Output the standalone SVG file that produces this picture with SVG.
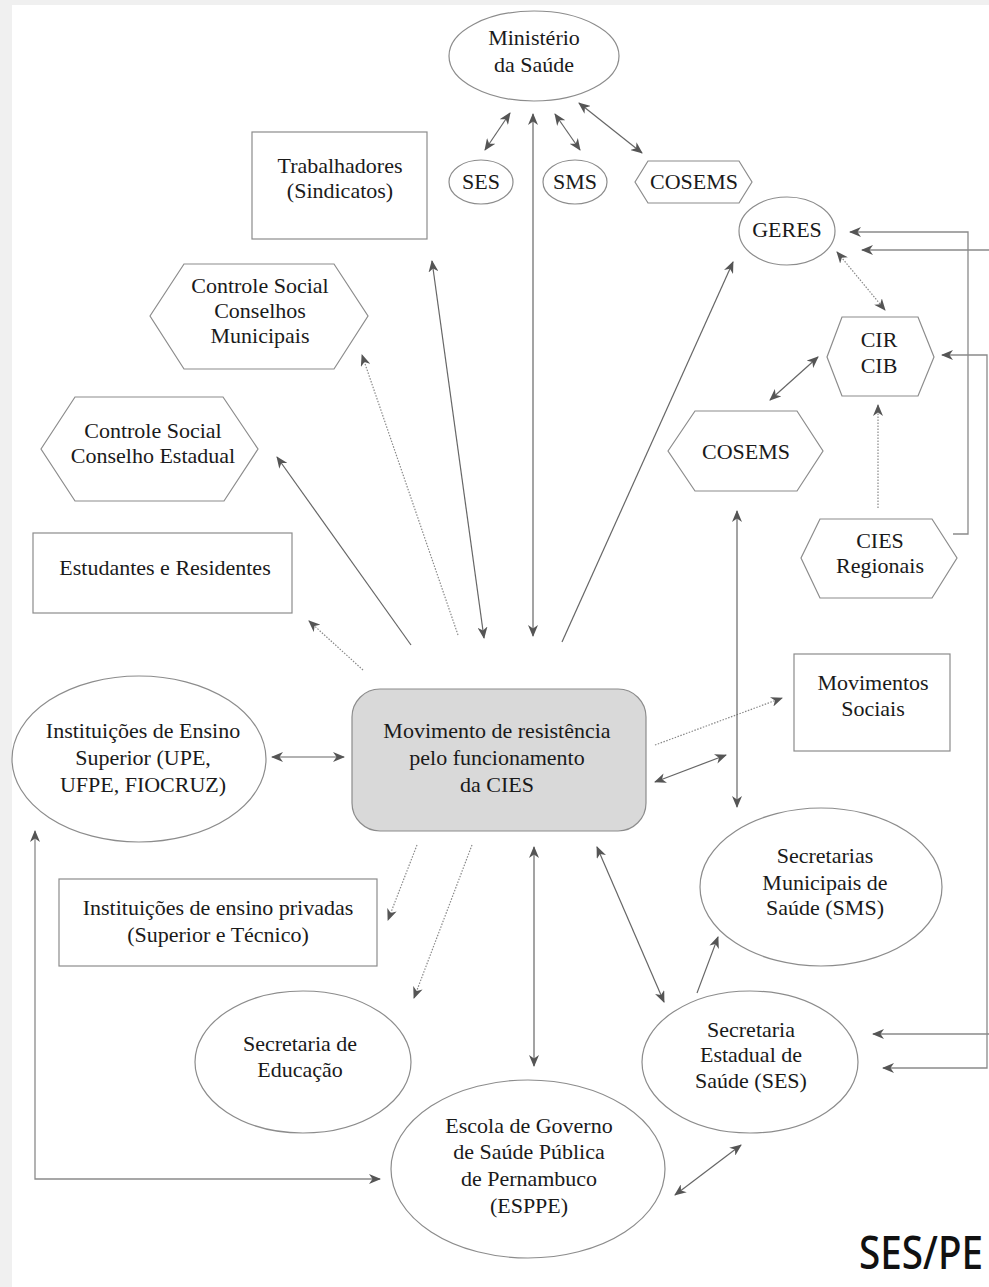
<svg xmlns="http://www.w3.org/2000/svg" width="989" height="1287" viewBox="0 0 989 1287">
<style>
.n{fill:#fff;stroke:#8c8c8c;stroke-width:1.2}
.c{fill:#d9d9d9;stroke:#8c8c8c;stroke-width:1.2}
.t{font-size:22px;fill:#1a1a1a;text-anchor:middle}
.s{fill:none;stroke:#666;stroke-width:1.2}
.o{fill:none;stroke:#8a8a8a;stroke-width:1.3}
.d{fill:none;stroke:#888;stroke-width:1.2;stroke-dasharray:1.5 1.5}
.e{marker-end:url(#ah)}
.b{marker-start:url(#ah);marker-end:url(#ah)}
</style>
<defs>
<marker id="ah" viewBox="0 0 12 10" refX="11" refY="5" markerWidth="12" markerHeight="10" markerUnits="userSpaceOnUse" orient="auto-start-reverse">
<path d="M0,0 L12,5 L0,10 L3.5,5 z" fill="#555"/>
</marker>
</defs>
<rect x="0" y="0" width="989" height="1287" fill="#fff"/>
<rect x="0" y="0" width="12" height="1287" fill="#f0f0f0"/>
<rect x="0" y="0" width="989" height="5" fill="#f0f0f0"/>

<g id="connectors">
<line class="s b" x1="485" y1="150" x2="510" y2="113"/>
<line class="s b" x1="533" y1="114" x2="533" y2="636"/>
<line class="s b" x1="555" y1="114" x2="580" y2="150"/>
<line class="s b" x1="579" y1="103" x2="642" y2="153"/>
<line class="s b" x1="432" y1="261" x2="484" y2="638"/>
<line class="d e" x1="458" y1="635" x2="362" y2="355"/>
<line class="s e" x1="411" y1="645" x2="277" y2="457"/>
<line class="d e" x1="363" y1="670" x2="309" y2="621"/>
<line class="s e" x1="562" y1="642" x2="733" y2="262"/>
<line class="s b" x1="272" y1="757" x2="344" y2="757"/>
<line class="d e" x1="417" y1="845" x2="388" y2="920"/>
<line class="d e" x1="472" y1="845" x2="414" y2="998"/>
<line class="s b" x1="534" y1="847" x2="534" y2="1066"/>
<line class="s b" x1="597" y1="847" x2="664" y2="1002"/>
<line class="s b" x1="675" y1="1195" x2="741" y2="1145"/>
<path class="o b" d="M35,831 L35,1179 L380,1179"/>
<line class="s e" x1="697" y1="993" x2="718" y2="937"/>
<line class="d e" x1="655" y1="745" x2="782" y2="698"/>
<line class="s b" x1="655" y1="782" x2="726" y2="755"/>
<line class="s b" x1="737" y1="511" x2="737" y2="807"/>
<line class="d b" x1="837" y1="252" x2="885" y2="310"/>
<line class="s b" x1="818" y1="357" x2="770" y2="400"/>
<line class="d e" x1="878" y1="508" x2="878" y2="405"/>
<path class="o e" d="M953,534 L968,534 L968,232 L850,232"/>
<path class="o e" d="M989,250 L862,250"/>
<path class="o b" d="M942,355 L987,355 L987,1068 L883,1068"/>
<path class="o e" d="M989,1034 L873,1034"/>
</g>

<g id="nodes" font-family="Liberation Serif, DejaVu Serif, serif">
<g id="ministerio">
<ellipse class="n" cx="534" cy="56" rx="85" ry="45"/>
<text class="t" x="534" y="45">Ministério</text>
<text class="t" x="534" y="72">da Saúde</text>
</g>
<g id="ses-top">
<ellipse class="n" cx="481" cy="182" rx="32" ry="22"/>
<text class="t" x="481" y="189">SES</text>
</g>
<g id="sms-top">
<ellipse class="n" cx="575" cy="182" rx="32" ry="22"/>
<text class="t" x="575" y="189">SMS</text>
</g>
<g id="cosems-top">
<polygon class="n" points="635,182 648,161 739,161 752,182 739,203 648,203"/>
<text class="t" x="694" y="189">COSEMS</text>
</g>
<g id="trabalhadores">
<rect class="n" x="252" y="132" width="175" height="107"/>
<text class="t" x="340" y="173">Trabalhadores</text>
<text class="t" x="340" y="198">(Sindicatos)</text>
</g>
<g id="conselhos-municipais">
<polygon class="n" points="150,316 184,264 334,264 368,316 334,369 184,369"/>
<text class="t" x="260" y="293">Controle Social</text>
<text class="t" x="260" y="318">Conselhos</text>
<text class="t" x="260" y="343">Municipais</text>
</g>
<g id="conselho-estadual">
<polygon class="n" points="41,449 75,397 223,397 258,449 224,501 75,501"/>
<text class="t" x="153" y="438">Controle Social</text>
<text class="t" x="153" y="463">Conselho Estadual</text>
</g>
<g id="estudantes">
<rect class="n" x="33" y="533" width="259" height="80"/>
<text class="t" x="165" y="575">Estudantes e Residentes</text>
</g>
<g id="geres">
<ellipse class="n" cx="787" cy="231" rx="48" ry="34"/>
<text class="t" x="787" y="237">GERES</text>
</g>
<g id="cir-cib">
<polygon class="n" points="827,357 842,317 918,317 934,357 918,396 842,396"/>
<text class="t" x="879" y="347">CIR</text>
<text class="t" x="879" y="373">CIB</text>
</g>
<g id="cosems">
<polygon class="n" points="668,451 695,411 797,411 823,451 797,491 695,491"/>
<text class="t" x="746" y="459">COSEMS</text>
</g>
<g id="cies-regionais">
<polygon class="n" points="801,558 820,519 932,519 957,558 932,598 820,598"/>
<text class="t" x="880" y="548">CIES</text>
<text class="t" x="880" y="573">Regionais</text>
</g>
<g id="movimentos-sociais">
<rect class="n" x="794" y="654" width="156" height="97"/>
<text class="t" x="873" y="690">Movimentos</text>
<text class="t" x="873" y="716">Sociais</text>
</g>
<g id="centro">
<rect class="c" x="352" y="689" width="294" height="142" rx="28"/>
<text class="t" x="497" y="738">Movimento de resistência</text>
<text class="t" x="497" y="765">pelo funcionamento</text>
<text class="t" x="497" y="792">da CIES</text>
</g>
<g id="ies">
<ellipse class="n" cx="139" cy="759" rx="127" ry="83"/>
<text class="t" x="143" y="738">Instituições de Ensino</text>
<text class="t" x="143" y="765">Superior (UPE,</text>
<text class="t" x="143" y="792">UFPE, FIOCRUZ)</text>
</g>
<g id="privadas">
<rect class="n" x="59" y="879" width="318" height="87"/>
<text class="t" x="218" y="915">Instituições de ensino privadas</text>
<text class="t" x="218" y="942">(Superior e Técnico)</text>
</g>
<g id="sms">
<ellipse class="n" cx="821" cy="887" rx="121" ry="79"/>
<text class="t" x="825" y="863">Secretarias</text>
<text class="t" x="825" y="890">Municipais de</text>
<text class="t" x="825" y="915">Saúde (SMS)</text>
</g>
<g id="educacao">
<ellipse class="n" cx="303" cy="1062" rx="108" ry="71"/>
<text class="t" x="300" y="1051">Secretaria de</text>
<text class="t" x="300" y="1077">Educação</text>
</g>
<g id="ses">
<ellipse class="n" cx="750" cy="1062" rx="108" ry="71"/>
<text class="t" x="751" y="1037">Secretaria</text>
<text class="t" x="751" y="1062">Estadual de</text>
<text class="t" x="751" y="1088">Saúde (SES)</text>
</g>
<g id="esppe">
<ellipse class="n" cx="528" cy="1169" rx="137" ry="89"/>
<text class="t" x="529" y="1133">Escola de Governo</text>
<text class="t" x="529" y="1159">de Saúde Pública</text>
<text class="t" x="529" y="1186">de Pernambuco</text>
<text class="t" x="529" y="1213">(ESPPE)</text>
</g>
</g>
<text transform="translate(983,1269) scale(0.84,1)" x="0" y="0" text-anchor="end" font-family="Noto Sans, Liberation Sans, sans-serif" font-size="46" font-weight="500" fill="#111">SES/PE</text>
</svg>
